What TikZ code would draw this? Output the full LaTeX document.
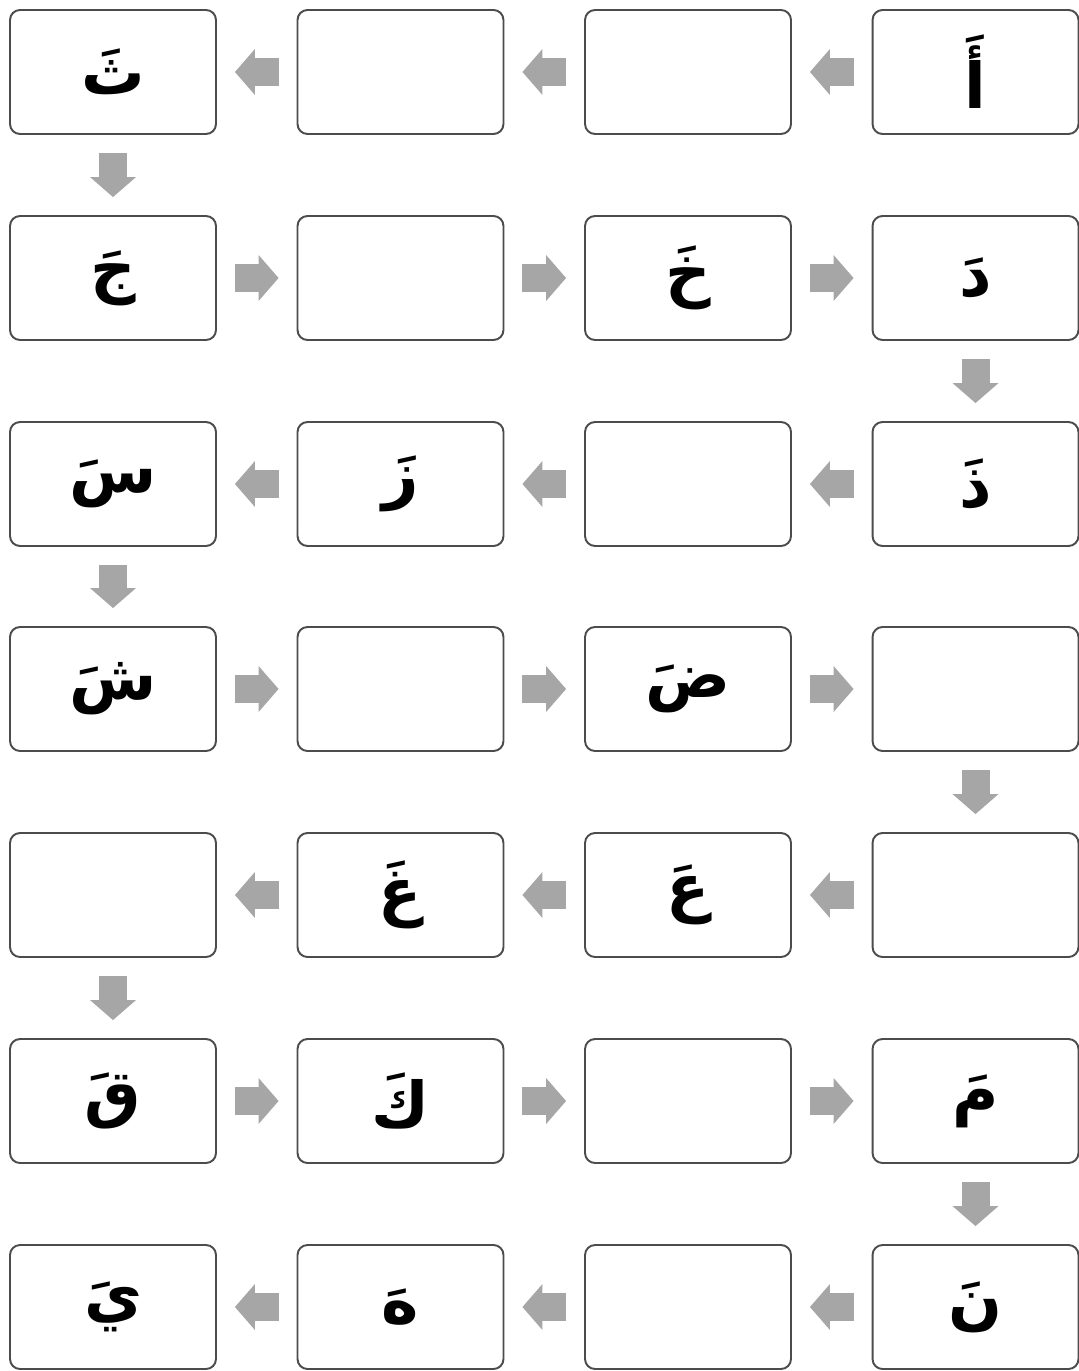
\documentclass[tikz,border=0pt]{standalone}
\usepackage{fontspec}
\usetikzlibrary{arrows.meta}
\newfontfamily\arfont[Script=Arabic]{DejaVu Sans}
\TeXXeTstate=1
\newcommand{\harf}[1]{{\arfont\bfseries\fontsize{36}{42}\selectfont\beginR #1\endR}}
\tikzset{
 box/.style={draw=black!70,line width=1.1pt,rounded corners=.2cm,fill=white,minimum width=4.12cm,minimum height=2.48cm,inner sep=0pt},
 flow/.style={draw=gray!70,line width=.56cm,shorten <=.36cm,shorten >=.36cm,-{Triangle[length=.4cm,width=.92cm,line width=0pt]}}
}
\begin{document}
\begin{tikzpicture}[x=.02cm,y=-.02cm]
 \useasboundingbox[fill=white] (0,0) rectangle (1078,1371);
 \foreach \c/\t in {1/ثَ,2/,3/,4/أَ} \node[box] (b1\c) at ({113+287.5*(\c-1)},72) {\harf{\t}};
 \foreach \c/\t in {1/جَ,2/,3/خَ,4/دَ} \node[box] (b2\c) at ({113+287.5*(\c-1)},278) {\harf{\t}};
 \foreach \c/\t in {1/سَ,2/زَ,3/,4/ذَ} \node[box] (b3\c) at ({113+287.5*(\c-1)},484) {\harf{\t}};
 \foreach \c/\t in {1/شَ,2/,3/ضَ,4/} \node[box] (b4\c) at ({113+287.5*(\c-1)},689) {\harf{\t}};
 \foreach \c/\t in {1/,2/غَ,3/عَ,4/} \node[box] (b5\c) at ({113+287.5*(\c-1)},895) {\harf{\t}};
 \foreach \c/\t in {1/قَ,2/كَ,3/,4/مَ} \node[box] (b6\c) at ({113+287.5*(\c-1)},1101) {\harf{\t}};
 \foreach \c/\t in {1/يَ,2/هَ,3/,4/نَ} \node[box] (b7\c) at ({113+287.5*(\c-1)},1307) {\harf{\t}};
 % right to left, then down
 \foreach \r in {1,3,5,7} {\draw[flow] (b\r4)--(b\r3); \draw[flow] (b\r3)--(b\r2); \draw[flow] (b\r2)--(b\r1);}
 \foreach \r in {2,4,6} {\draw[flow] (b\r1)--(b\r2); \draw[flow] (b\r2)--(b\r3); \draw[flow] (b\r3)--(b\r4);}
 \draw[flow] (b11)--(b21); \draw[flow] (b24)--(b34); \draw[flow] (b31)--(b41);
 \draw[flow] (b44)--(b54); \draw[flow] (b51)--(b61); \draw[flow] (b64)--(b74);
\end{tikzpicture}
\end{document}
